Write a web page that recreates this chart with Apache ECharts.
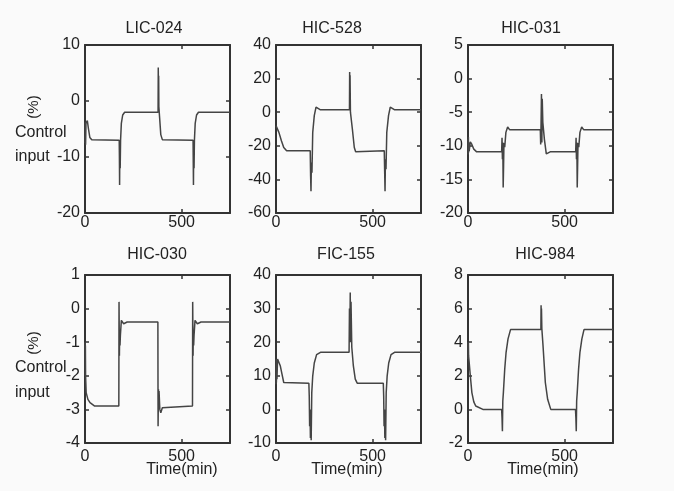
<!DOCTYPE html>
<html>
<head>
<meta charset="utf-8">
<script src="https://cdn.jsdelivr.net/npm/echarts@6/dist/echarts.min.js"></script>
<style>
html,body{margin:0;padding:0;background:#fafafa;}
#c{width:674px;height:491px;}
</style>
</head>
<body>
<div id="c"></div>
<script>
// ---- data: [time (min), control input (%)] ----
const lic024 = [[0,-7.5],[1,-3.8],[3,-7.8],[5,-4],[12,-3.5],[18,-5],[25,-6.5],[35,-6.9],[45,-7],[177,-7],[178,-10],[179,-15],[180,-9],[182,-12],[184,-7],[188,-4],[195,-2.5],[205,-2],[378,-2],[379,6],[380,-1],[381,4.5],[382,-1],[386,-3],[392,-6],[400,-6.9],[410,-7],[559,-7],[560,-11],[561,-15],[562,-9],[564,-12],[566,-7],[570,-4],[577,-2.5],[587,-2],[750,-2]];
const hic528 = [[0,-8],[5,-8.5],[15,-12],[28,-17],[40,-21],[55,-23],[177,-23],[179,-38],[181,-47],[183,-30],[186,-36],[190,-12],[198,-2],[207,3],[215,2.5],[228,1.5],[380,1.5],[381,24],[382,5],[383,22],[385,0],[395,-10],[405,-21],[412,-23.5],[420,-23],[560,-23],[562,-35],[564,-47],[566,-28],[569,-34],[573,-12],[582,-2],[591,3],[600,2.5],[612,1.5],[750,1.5]];
const hic031 = [[0,-9],[1,-11.3],[2,-8.7],[3,-11],[4,-9.5],[6,-10.8],[12,-9.4],[20,-9.8],[30,-10.5],[45,-10.9],[174,-10.9],[176,-8.8],[178,-12],[180,-9.5],[182,-16.2],[184,-13],[186,-9.6],[190,-10.2],[196,-8],[205,-7.2],[215,-7.6],[374,-7.6],[376,-9.8],[378,-6.5],[380,-2.3],[382,-9.5],[384,-3],[387,-6.5],[395,-9],[405,-11.2],[412,-11],[425,-10.9],[557,-10.9],[559,-8.8],[561,-12],[563,-9.5],[565,-16.2],[567,-13],[569,-9.6],[573,-10.2],[579,-8],[588,-7.2],[598,-7.6],[750,-7.6]];
const hic030 = [[0,-1],[1,-2],[2,-1.1],[3,-2],[6,-2.5],[15,-2.7],[26,-2.8],[50,-2.9],[175,-2.9],[176,0.2],[178,-1.4],[179,-0.8],[181,-1.1],[183,-0.8],[188,-0.35],[192,-0.3],[200,-0.45],[210,-0.42],[218,-0.4],[377,-0.4],[378,-3.5],[380,-2.4],[381,-2.6],[383,-2.45],[387,-3],[392,-3.1],[400,-2.95],[410,-2.9],[556,-2.9],[557,0.2],[559,-1.4],[560,-0.8],[562,-1.1],[564,-0.8],[569,-0.35],[573,-0.3],[581,-0.45],[591,-0.42],[600,-0.4],[750,-0.4]];
const fic155 = [[0,7.5],[1,15],[2,8],[3,14],[5,9],[8,15],[14,15],[22,13],[31,10.5],[40,8],[50,7.8],[170,7.8],[172,4],[174,-5],[176,0],[178,-8.5],[180,-3],[182,-9.2],[185,5],[190,10],[198,13.8],[210,16.3],[230,17],[378,17],[380,30],[382,20],[384,34.8],[386,20],[388,32],[392,18.5],[400,13],[410,9],[420,7.8],[555,7.8],[557,4],[559,-5],[561,0],[563,-8.5],[565,-3],[567,-9.2],[570,5],[575,10],[583,13.8],[595,16.3],[613,17],[750,17]];
const hic984 = [[0,4],[1,3],[2,4],[3,3.2],[6,2.8],[12,2],[20,1],[30,0.45],[40,0.2],[77,0],[174,0],[176,-0.5],[178,-1.3],[180,0.5],[183,1],[190,2.4],[197,3.4],[207,4.2],[220,4.75],[377,4.75],[378,6.2],[379,5],[380,6],[382,4.8],[388,3.8],[400,1.6],[412,0.6],[428,0],[556,0],[558,-0.5],[560,-1.3],[562,0.5],[565,1],[572,2.4],[579,3.4],[589,4.2],[600,4.75],[750,4.75]];

const titles = ['LIC-024','HIC-528','HIC-031','HIC-030','FIC-155','HIC-984'];
const seriesData = [lic024, hic528, hic031, hic030, fic155, hic984];
const yMin = [-20, -60, -20, -4, -10, -2];
const yMax = [10, 40, 5, 1, 40, 8];
const yStep = [10, 20, 5, 1, 10, 2];
const xMin = 0, xMax = 750, xStep = 500;
const xTitle = 'Time(min)';
const yTitleParts = ['(%)', 'Control', 'input'];

// ---- layout ----
const lefts = [85, 276, 468];
const tops = [45, 275];
const W = 145, H = 168;
const FONT = '"Liberation Sans", Arial, Helvetica, sans-serif';
const TXT = '#222';
const FRAME = '#333';

const grid = [], xAxis = [], yAxis = [], series = [], graphic = [];
const titlePos = [[154,29],[332,29],[531,29],[157,255],[346,255],[545,255]];
const xTitlePos = [[182,470],[347,470],[543,470]];

for (let i = 0; i < 6; i++) {
  const r = Math.floor(i / 3), c = i % 3;
  grid.push({left: lefts[c], top: tops[r], width: W, height: H});
  const axLine = {show: true, onZero: false, lineStyle: {color: FRAME, width: 2}};
  const tick = {show: true, inside: true, length: 4, lineStyle: {color: FRAME, width: 1.5}};
  xAxis.push({type: 'value', gridIndex: i, position: 'bottom', min: xMin, max: xMax, interval: xStep,
    axisLine: axLine, axisTick: tick, splitLine: {show: false},
    axisLabel: {color: TXT, fontSize: 16, fontFamily: FONT, margin: r === 0 ? 2 : 6,
      showMaxLabel: false}});
  xAxis.push({type: 'value', gridIndex: i, position: 'top', min: xMin, max: xMax, interval: xStep,
    axisLine: axLine, axisTick: tick, splitLine: {show: false}, axisLabel: {show: false}});
  yAxis.push({type: 'value', gridIndex: i, position: 'left', min: yMin[i], max: yMax[i], interval: yStep[i],
    axisLine: axLine, axisTick: tick, splitLine: {show: false},
    axisLabel: {color: TXT, fontSize: 16, fontFamily: FONT, margin: 5}});
  yAxis.push({type: 'value', gridIndex: i, position: 'right', min: yMin[i], max: yMax[i], interval: yStep[i],
    axisLine: axLine, axisTick: tick, splitLine: {show: false}, axisLabel: {show: false}});
  series.push({type: 'line', xAxisIndex: 2 * i, yAxisIndex: 2 * i, data: seriesData[i],
    showSymbol: false, symbol: 'none', animation: false,
    lineStyle: {color: '#444', width: 1.5}, z: 1});
  graphic.push({type: 'text', x: titlePos[i][0], y: titlePos[i][1],
    style: {text: titles[i], fill: TXT, font: '16px ' + FONT, textAlign: 'center', textVerticalAlign: 'middle'}});
}
for (let c = 0; c < 3; c++) {
  graphic.push({type: 'text', x: xTitlePos[c][0], y: xTitlePos[c][1],
    style: {text: xTitle, fill: TXT, font: '16px ' + FONT, textAlign: 'center', textVerticalAlign: 'middle'}});
}
const yLab = [[107,133,157],[343,368,393]];
for (let r = 0; r < 2; r++) {
  graphic.push({type: 'text', x: 34, y: yLab[r][0], rotation: Math.PI / 2,
    style: {text: yTitleParts[0], fill: TXT, font: '15px ' + FONT, textAlign: 'center', textVerticalAlign: 'middle'}});
  graphic.push({type: 'text', x: 15, y: yLab[r][1],
    style: {text: yTitleParts[1], fill: TXT, font: '16px ' + FONT, textAlign: 'left', textVerticalAlign: 'middle'}});
  graphic.push({type: 'text', x: 15, y: yLab[r][2],
    style: {text: yTitleParts[2], fill: TXT, font: '16px ' + FONT, textAlign: 'left', textVerticalAlign: 'middle'}});
}

const chart = echarts.init(document.getElementById('c'), null, {renderer: 'canvas'});
chart.setOption({backgroundColor: '#fafafa', animation: false, grid, xAxis, yAxis, series, graphic});
</script>
</body>
</html>
